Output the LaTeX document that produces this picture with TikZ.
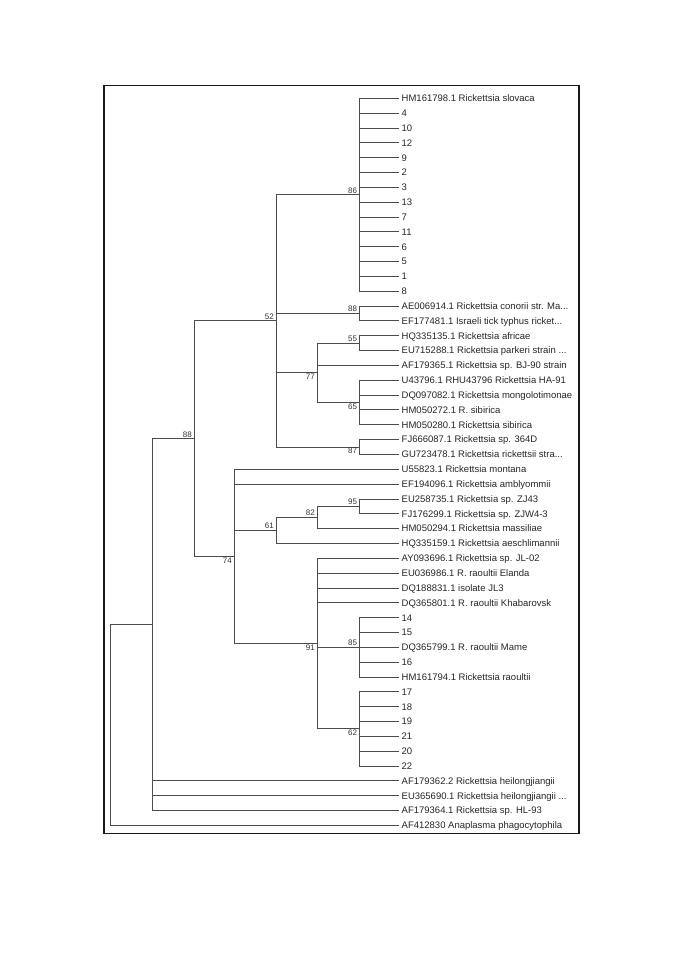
\documentclass[tikz,border=0pt]{standalone}
\usepackage{fontspec}
\setmainfont{Liberation Sans}
\newcommand{\tdots}{...}
\begin{document}
\begin{tikzpicture}[x=1pt,y=-1pt,
  br/.style={draw=black!70,line width=0.8pt},
  leaf/.style={anchor=west,inner xsep=3pt,inner ysep=0pt,text height=6.8pt,text depth=0pt,font=\fontsize{9.5}{11}\selectfont,text=black!85},
  bs/.style={inner xsep=2pt,inner ysep=1.2pt,font=\fontsize{8}{9}\selectfont,text=black!80},
  frame/.style={draw=black!90,line width=1.4pt}]
\useasboundingbox (0,0) rectangle (685,969);
\draw[frame] (104,85.7) rectangle (579,833.3);
% leaves
\foreach \t [count=\k] in {HM161798.1 Rickettsia slovaca,4,10,12,9,2,3,13,7,11,6,5,1,8,
  AE006914.1 Rickettsia conorii str. Ma\tdots,EF177481.1 Israeli tick typhus ricket\tdots,
  HQ335135.1 Rickettsia africae,EU715288.1 Rickettsia parkeri strain \tdots,
  AF179365.1 Rickettsia sp. BJ-90 strain,U43796.1 RHU43796 Rickettsia HA-91,
  DQ097082.1 Rickettsia mongolotimonae,HM050272.1 R. sibirica,HM050280.1 Rickettsia sibirica,
  FJ666087.1 Rickettsia sp. 364D,GU723478.1 Rickettsia rickettsii stra\tdots,
  U55823.1 Rickettsia montana,EF194096.1 Rickettsia amblyommii,
  EU258735.1 Rickettsia sp. ZJ43,FJ176299.1 Rickettsia sp. ZJW4-3,
  HM050294.1 Rickettsia massiliae,HQ335159.1 Rickettsia aeschlimannii,
  AY093696.1 Rickettsia sp. JL-02,EU036986.1 R. raoultii Elanda,DQ188831.1 isolate JL3,
  DQ365801.1 R. raoultii Khabarovsk,14,15,DQ365799.1 R. raoultii Mame,16,
  HM161794.1 Rickettsia raoultii,17,18,19,21,20,22,
  AF179362.2 Rickettsia heilongjiangii,EU365690.1 Rickettsia heilongjiangii \tdots,
  AF179364.1 Rickettsia sp. HL-93,AF412830 Anaplasma phagocytophila}{
  \node[leaf] (L\k) at (398.5,{98.3+(\k-1)*14.837}) {\t};
}
% internal nodes
\coordinate (C86) at (359.3,194.74);
\coordinate (C88c) at (359.3,313.44);
\coordinate (C55) at (359.3,343.11);
\coordinate (C65) at (359.3,402.46);
\coordinate (N77) at (317,372.78);
\coordinate (C87) at (359.3,446.97);
\coordinate (N52) at (276,320.86);
\coordinate (C95) at (359.3,506.32);
\coordinate (N82) at (317,517.45);
\coordinate (N61) at (276,530.43);
\coordinate (C85) at (359.3,647.27);
\coordinate (C62) at (359.3,728.87);
\coordinate (N91) at (317,643.56);
\coordinate (N74) at (234,556.4);
\coordinate (N88) at (194,438.63);
\coordinate (H) at (152.3,624.55);
\coordinate (R) at (110.7,724.93);
% branches
\foreach \c in {1,...,14} \draw[br] (C86) |- (L\c.west);
\foreach \c in {15,16} \draw[br] (C88c) |- (L\c.west);
\foreach \c in {17,18} \draw[br] (C55) |- (L\c.west);
\foreach \c in {20,...,23} \draw[br] (C65) |- (L\c.west);
\foreach \c in {24,25} \draw[br] (C87) |- (L\c.west);
\draw[br] (N77) |- (C55); \draw[br] (N77) |- (L19.west); \draw[br] (N77) |- (C65);
\draw[br] (N52) |- (C86); \draw[br] (N52) |- (C88c); \draw[br] (N52) |- (N77); \draw[br] (N52) |- (C87);
\foreach \c in {28,29} \draw[br] (C95) |- (L\c.west);
\draw[br] (N82) |- (C95); \draw[br] (N82) |- (L30.west);
\draw[br] (N61) |- (N82); \draw[br] (N61) |- (L31.west);
\foreach \c in {36,...,40} \draw[br] (C85) |- (L\c.west);
\foreach \c in {41,...,46} \draw[br] (C62) |- (L\c.west);
\foreach \c in {32,...,35} \draw[br] (N91) |- (L\c.west);
\draw[br] (N91) |- (C85); \draw[br] (N91) |- (C62);
\draw[br] (N74) |- (L26.west); \draw[br] (N74) |- (L27.west); \draw[br] (N74) |- (N61); \draw[br] (N74) |- (N91);
\draw[br] (N88) |- (N52); \draw[br] (N88) |- (N74);
\draw[br] (H) |- (N88);
\foreach \c in {47,48,49} \draw[br] (H) |- (L\c.west);
\draw[br] (R) |- (H); \draw[br] (R) |- (L50.west);
% bootstrap values
\node[bs,anchor=south east] (b86) at (C86) {86};
\node[bs,anchor=south east] (b88c) at (C88c) {88};
\node[bs,anchor=south east] (b52) at (N52) {52};
\node[bs,anchor=south east] (b55) at (C55) {55};
\node[bs,anchor=north east] (b77) at (N77) {77};
\node[bs,anchor=north east] (b65) at (C65) {65};
\node[bs,anchor=north east] (b87) at (C87) {87};
\node[bs,anchor=south east] (b88) at (N88) {88};
\node[bs,anchor=south east] (b95) at (C95) {95};
\node[bs,anchor=south east] (b82) at (N82) {82};
\node[bs,anchor=south east] (b61) at (N61) {61};
\node[bs,anchor=north east] (b74) at (N74) {74};
\node[bs,anchor=south east] (b85) at (C85) {85};
\node[bs,anchor=north east] (b91) at (N91) {91};
\node[bs,anchor=north east] (b62) at (C62) {62};
\end{tikzpicture}
\end{document}
